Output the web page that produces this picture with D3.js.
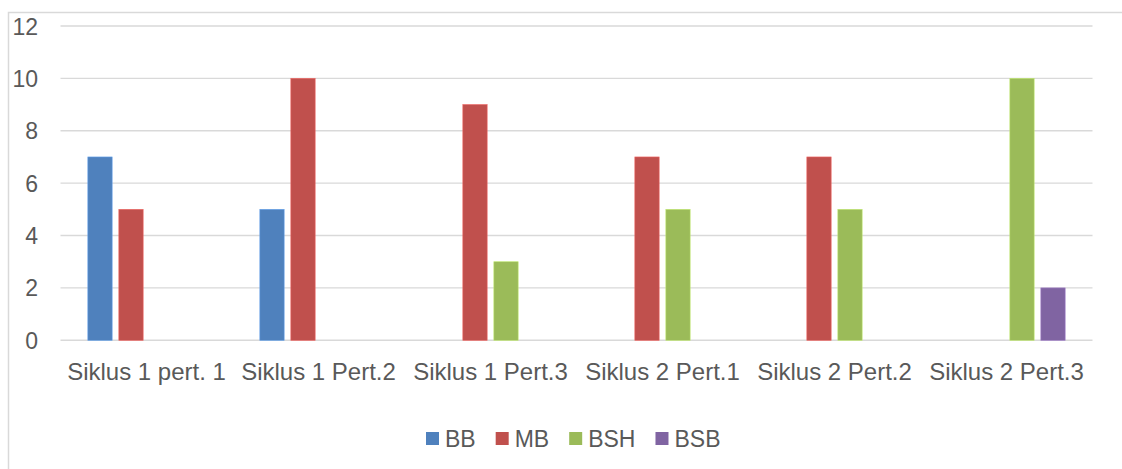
<!DOCTYPE html>
<html>
<head>
<meta charset="utf-8">
<script src="https://cdn.jsdelivr.net/npm/d3@7"></script>
<style>
  html, body { margin: 0; padding: 0; background: #fff; }
  svg { display: block; }
  text { font-family: "Liberation Sans", Arial, Helvetica, sans-serif; fill: #595959; }
</style>
</head>
<body>
<svg id="chart" width="1122" height="469"></svg>
<script>
const categories = ["Siklus 1 pert. 1", "Siklus 1 Pert.2", "Siklus 1 Pert.3", "Siklus 2 Pert.1", "Siklus 2 Pert.2", "Siklus 2 Pert.3"];
const seriesNames = ["BB", "MB", "BSH", "BSB"];
const seriesColors = ["#4F81BD", "#C0504D", "#9BBB59", "#8064A2"];
const BB  = [7, 5, 0, 0, 0, 0];
const MB  = [5, 10, 9, 7, 7, 0];
const BSH = [0, 0, 3, 5, 5, 10];
const BSB = [0, 0, 0, 0, 0, 2];
const yTicks = [0, 2, 4, 6, 8, 10, 12];

const seriesValues = [BB, MB, BSH, BSB];
const svg = d3.select("#chart");

// outer frame
svg.append("rect")
  .attr("x", 8.5).attr("y", 12.5)
  .attr("width", 1300).attr("height", 700)
  .attr("fill", "none").attr("stroke", "#d9d9d9").attr("stroke-width", 1.5);

const plotLeft = 60.5, plotRight = 1092.5, plotTop = 26, plotBottom = 340.3;

const x0 = d3.scaleBand().domain(categories).range([plotLeft, plotRight]).paddingInner(0).paddingOuter(0);
const x1 = d3.scaleBand().domain(seriesNames).range([0, x0.bandwidth()]).paddingInner(0.216).paddingOuter(0.882);
const y = d3.scaleLinear().domain([0, 12]).range([plotBottom, plotTop]);

// gridlines
svg.append("g").selectAll("line").data(yTicks).join("line")
  .attr("x1", plotLeft).attr("x2", plotRight)
  .attr("y1", d => y(d)).attr("y2", d => y(d))
  .attr("stroke", "#d9d9d9").attr("stroke-width", 1.4);

// y axis labels
const yAxis = d3.axisLeft(y).tickValues(yTicks).tickSize(0).tickPadding(0);
const gy = svg.append("g").attr("transform", "translate(38,0)").call(yAxis);
gy.select(".domain").remove();
gy.selectAll("text")
  .attr("font-size", 23)
  .attr("font-family", '"Liberation Sans", Arial, sans-serif')
  .attr("fill", "#595959")
  .attr("dy", "0.35em");

// bars
const rows = [];
categories.forEach((c, i) => {
  seriesNames.forEach((s, j) => {
    rows.push({ cat: c, series: s, value: seriesValues[j][i], color: seriesColors[j] });
  });
});
svg.append("g").selectAll("rect").data(rows.filter(d => d.value > 0)).join("rect")
  .attr("x", d => x0(d.cat) + x1(d.series))
  .attr("y", d => y(d.value))
  .attr("width", x1.bandwidth())
  .attr("height", d => y(0) - y(d.value))
  .attr("fill", d => d.color)
  .attr("stroke", d => d3.color(d.color).brighter(0.6))
  .attr("stroke-width", 0.6);

// x axis labels
const xAxis = d3.axisBottom(x0).tickSize(0).tickPadding(0);
const gx = svg.append("g").attr("transform", "translate(0,380)").call(xAxis);
gx.select(".domain").remove();
gx.selectAll("text")
  .attr("font-size", 24)
  .attr("font-family", '"Liberation Sans", Arial, sans-serif')
  .attr("fill", "#595959")
  .attr("y", 0).attr("dy", 0);

// legend
const legend = svg.append("g");
let lx = 426;
seriesNames.forEach((s, j) => {
  legend.append("rect")
    .attr("x", lx).attr("y", 432)
    .attr("width", 13).attr("height", 13)
    .attr("fill", seriesColors[j]);
  const t = legend.append("text")
    .attr("x", lx + 19).attr("y", 446.5)
    .attr("font-size", 23)
    .text(s);
  lx += 19 + t.node().getComputedTextLength() + 20;
});
</script>
</body>
</html>
